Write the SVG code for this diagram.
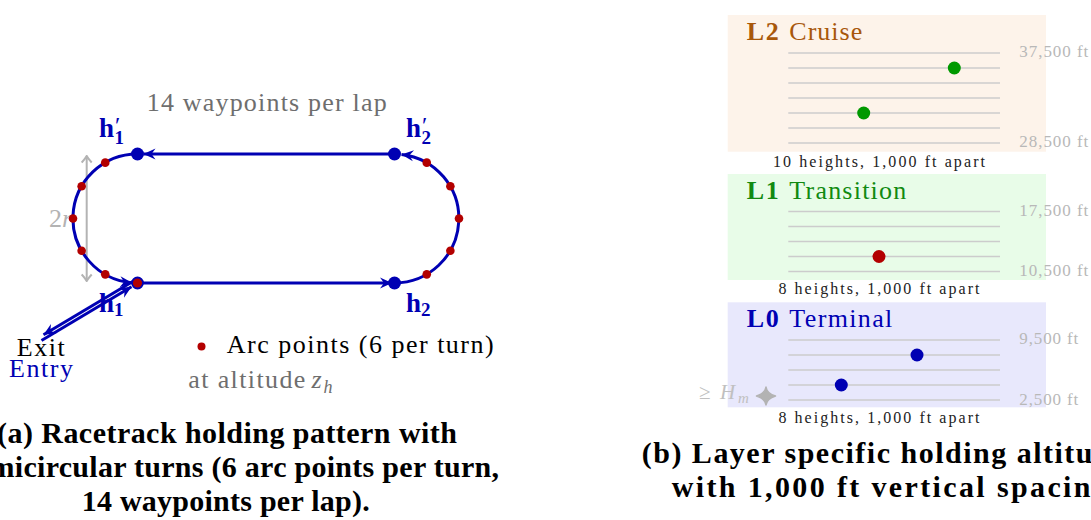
<svg xmlns="http://www.w3.org/2000/svg" width="1091" height="520" viewBox="0 0 1091 520">
<style>
text{font-family:"Liberation Serif","Times New Roman",serif}
.t26{font-size:26px}
.b{font-weight:bold}
.blue{fill:#0000b3}
.red{fill:#b30000}
.gray{fill:#6e6e6e}
.lgray{fill:#b3b3b3}
.hl{font-size:27px;font-weight:bold;fill:#0000b3}
.sub{font-size:19px;font-weight:bold;fill:#0000b3}
.prime{font-size:24px;fill:#0000b3}
.track{fill:none;stroke:#0000b3;stroke-width:3}
.grid{stroke:#cccccc;stroke-width:1.3}
.tick{font-size:17px;fill:#b8b8b8}
.note{font-size:16px;fill:#222}
.cap{font-size:30px;font-weight:bold;fill:#000}
</style>
<defs>
<marker id="stealth" viewBox="-13 -7 14 14" refX="0" refY="0" markerWidth="14" markerHeight="14" markerUnits="userSpaceOnUse" orient="auto">
<path d="M0,0 L-12,-5.5 L-8,0 L-12,5.5 Z" fill="#0000b3"/>
</marker>
<marker id="dim" viewBox="-8 -6 9 12" refX="0" refY="0" markerWidth="9" markerHeight="12" markerUnits="userSpaceOnUse" orient="auto-start-reverse">
<path d="M-6.5,-5 Q-2,-1 0,0 Q-2,1 -6.5,5" fill="none" stroke="#b3b3b3" stroke-width="2"/>
</marker>
</defs>
<rect width="1091" height="520" fill="#ffffff"/>

<!-- ===== Panel (a) ===== -->
<g id="dimension">
<line x1="86.7" y1="156" x2="86.7" y2="281" stroke="#b3b3b3" stroke-width="2" marker-start="url(#dim)" marker-end="url(#dim)"/>
<text x="49" y="226.7" class="t26 lgray">2<tspan font-style="italic">r</tspan></text>
</g>

<g id="connectors">
<path class="track" d="M137.5,283 L392,283" marker-end="url(#stealth)"/>
<path class="track" d="M394.5,283 A64.5,64.5 0 0 0 401.5,154.4" marker-end="url(#stealth)"/>
<path class="track" d="M394.5,154 L143.5,154" marker-end="url(#stealth)"/>
<path class="track" d="M137.5,154 A64.5,64.5 0 0 0 132,282.77" marker-end="url(#stealth)"/>
<path class="track" d="M41.5,340.5 L131.5,286.8" marker-end="url(#stealth)"/>
<path class="track" d="M134.5,280.5 L43.5,334.8" marker-end="url(#stealth)"/>
</g>

<g id="arc-points" class="red">
<circle cx="105.25" cy="162.64" r="4.3"/>
<circle cx="81.64" cy="186.25" r="4.3"/>
<circle cx="73" cy="218.5" r="4.3"/>
<circle cx="81.64" cy="250.75" r="4.3"/>
<circle cx="105.25" cy="274.36" r="4.3"/>
<circle cx="426.75" cy="162.64" r="4.3"/>
<circle cx="450.36" cy="186.25" r="4.3"/>
<circle cx="459" cy="218.5" r="4.3"/>
<circle cx="450.36" cy="250.75" r="4.3"/>
<circle cx="426.75" cy="274.36" r="4.3"/>
</g>

<g id="h1p">
<circle cx="137.5" cy="154" r="6.5" class="blue"/>
<text x="99" y="137" class="hl">h</text>
<text x="115" y="133" class="prime">′</text>
<text x="114.5" y="143.5" class="sub">1</text>
</g>
<g id="h2p">
<circle cx="394.5" cy="154" r="6.5" class="blue"/>
<text x="406" y="137" class="hl">h</text>
<text x="422" y="133" class="prime">′</text>
<text x="421.5" y="143.5" class="sub">2</text>
</g>
<g id="h1">
<circle cx="137.5" cy="283" r="5.5" fill="#b30000" stroke="#0000b3" stroke-width="1.8"/>
<text x="99" y="311.7" class="hl">h</text>
<text x="114" y="316" class="sub">1</text>
</g>
<g id="h2">
<circle cx="394.5" cy="283" r="6.5" class="blue"/>
<text x="406" y="311.7" class="hl">h</text>
<text x="421" y="316" class="sub">2</text>
</g>

<g id="labels-a">
<text x="146.7" y="110.5" class="t26 gray" textLength="240" lengthAdjust="spacing">14 waypoints per lap</text>
<text x="16.7" y="356" class="t26" fill="#000" textLength="48" lengthAdjust="spacing">Exit</text>
<text x="9" y="377" class="t26 blue" textLength="64" lengthAdjust="spacing">Entry</text>
</g>

<g id="legend">
<circle cx="201.5" cy="346.5" r="4" class="red"/>
<text x="226.7" y="353" class="t26" fill="#000" textLength="267" lengthAdjust="spacing">Arc points (6 per turn)</text>
<text x="188.3" y="388" class="t26 gray" textLength="117" lengthAdjust="spacing">at altitude</text>
<text x="311.5" y="388" class="t26 gray" font-style="italic">z</text>
<text x="323.5" y="392.5" class="gray" font-size="18" font-style="italic">h</text>
</g>

<g id="caption-a">
<text x="-3" y="443.3" class="cap" textLength="460" lengthAdjust="spacing">(a) Racetrack holding pattern with</text>
<text x="-36" y="477.3" class="cap" textLength="535" lengthAdjust="spacing">semicircular turns (6 arc points per turn,</text>
<text x="81.7" y="510.7" class="cap" textLength="288" lengthAdjust="spacing">14 waypoints per lap).</text>
</g>

<!-- ===== Panel (b) ===== -->
<g id="layer-L2">
<rect x="727.7" y="15" width="318.3" height="136.7" fill="#fdf3ea"/>
<line class="grid" x1="788.3" y1="53" x2="1000" y2="53"/>
<line class="grid" x1="788.3" y1="68" x2="1000" y2="68"/>
<line class="grid" x1="788.3" y1="83" x2="1000" y2="83"/>
<line class="grid" x1="788.3" y1="98" x2="1000" y2="98"/>
<line class="grid" x1="788.3" y1="113" x2="1000" y2="113"/>
<line class="grid" x1="788.3" y1="128" x2="1000" y2="128"/>
<line class="grid" x1="788.3" y1="143" x2="1000" y2="143"/>
<circle cx="954.3" cy="68" r="6.5" fill="#009900"/>
<circle cx="863.7" cy="113" r="6.5" fill="#009900"/>
<text x="746.7" y="40" class="t26 b" fill="#a8570a" textLength="32" lengthAdjust="spacing">L2</text>
<text x="789.3" y="40" class="t26" fill="#a8570a" textLength="73" lengthAdjust="spacing">Cruise</text>
<text x="1019.3" y="57" class="tick" textLength="69" lengthAdjust="spacing">37,500 ft</text>
<text x="1019.3" y="147" class="tick" textLength="69" lengthAdjust="spacing">28,500 ft</text>
<text x="879" y="166.7" class="note" text-anchor="middle" textLength="212" lengthAdjust="spacing">10 heights, 1,000 ft apart</text>
</g>

<g id="layer-L1">
<rect x="727.7" y="174" width="318.3" height="106" fill="#e8fce8"/>
<line class="grid" x1="788.3" y1="211.5" x2="1000" y2="211.5"/>
<line class="grid" x1="788.3" y1="226.5" x2="1000" y2="226.5"/>
<line class="grid" x1="788.3" y1="241.5" x2="1000" y2="241.5"/>
<line class="grid" x1="788.3" y1="256.5" x2="1000" y2="256.5"/>
<line class="grid" x1="788.3" y1="271.5" x2="1000" y2="271.5"/>
<circle cx="879" cy="256.5" r="6.5" fill="#b30000"/>
<text x="746.7" y="199" class="t26 b" fill="#118a11" textLength="32" lengthAdjust="spacing">L1</text>
<text x="789.3" y="199" class="t26" fill="#118a11" textLength="117" lengthAdjust="spacing">Transition</text>
<text x="1019.3" y="216" class="tick" textLength="69" lengthAdjust="spacing">17,500 ft</text>
<text x="1019.3" y="275.5" class="tick" textLength="69" lengthAdjust="spacing">10,500 ft</text>
<text x="879" y="294.3" class="note" text-anchor="middle" textLength="201" lengthAdjust="spacing">8 heights, 1,000 ft apart</text>
</g>

<g id="layer-L0">
<rect x="727.7" y="302.3" width="318.3" height="105" fill="#e8e8fc"/>
<line class="grid" x1="788.3" y1="340" x2="1000" y2="340"/>
<line class="grid" x1="788.3" y1="355" x2="1000" y2="355"/>
<line class="grid" x1="788.3" y1="370" x2="1000" y2="370"/>
<line class="grid" x1="788.3" y1="385" x2="1000" y2="385"/>
<line class="grid" x1="788.3" y1="400" x2="1000" y2="400"/>
<circle cx="917" cy="355" r="6.5" fill="#0000b3"/>
<circle cx="841.3" cy="385" r="6.5" fill="#0000b3"/>
<text x="746.7" y="327.3" class="t26 b" fill="#0000b3" textLength="32" lengthAdjust="spacing">L0</text>
<text x="789.3" y="327.3" class="t26" fill="#0000b3" textLength="103" lengthAdjust="spacing">Terminal</text>
<text x="1019.3" y="343.5" class="tick" textLength="59" lengthAdjust="spacing">9,500 ft</text>
<text x="1019.3" y="404.5" class="tick" textLength="59" lengthAdjust="spacing">2,500 ft</text>
<text x="879" y="423.3" class="note" text-anchor="middle" textLength="201" lengthAdjust="spacing">8 heights, 1,000 ft apart</text>
<text x="699" y="399" font-size="21" fill="#c0c0c0">≥</text>
<text x="720" y="399" font-size="21" font-style="italic" fill="#c0c0c0">H</text>
<text x="738" y="402.5" font-size="15" font-style="italic" fill="#c0c0c0">m</text>
<path d="M766,387 Q767,393.5 775.5,396 Q767,398.5 766,405 Q765,398.5 756.5,396 Q765,393.5 766,387 Z" fill="#b3b3b3" stroke="#b3b3b3" stroke-width="1.5" stroke-linejoin="round"/>
</g>

<g id="caption-b">
<text x="641.7" y="463.3" class="cap" textLength="497" lengthAdjust="spacing">(b) Layer specific holding altitudes</text>
<text x="671.7" y="496.7" class="cap" textLength="446" lengthAdjust="spacing">with 1,000 ft vertical spacing.</text>
</g>
</svg>
